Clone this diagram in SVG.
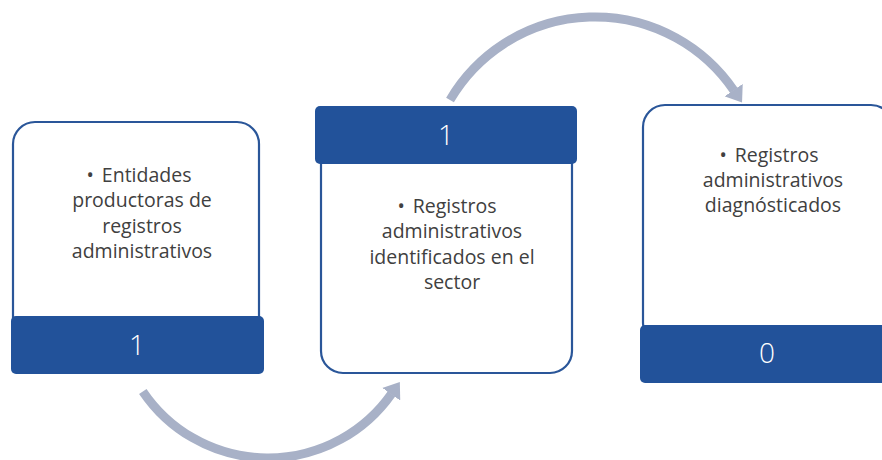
<svg xmlns="http://www.w3.org/2000/svg" width="882" height="460" viewBox="0 0 882 460">
  <style>
    .card { fill: #ffffff; stroke: #2A5699; stroke-width: 2.2; }
    .bar { fill: #22529A; }
    .txt { font-family: "Open Sans", "Noto Sans", "Liberation Sans", sans-serif; font-size: 19.5px; fill: #404040; text-anchor: middle; }
    .num { font-family: "Open Sans", "Noto Sans", "Liberation Sans", sans-serif; font-size: 28px; font-weight: 300; fill: #ffffff; text-anchor: middle; }
    .arc { fill: none; stroke: #A8B1C7; stroke-width: 9; }
  </style>
  <defs>
    <marker id="head" markerUnits="userSpaceOnUse" markerWidth="16" markerHeight="22" viewBox="0 0 16 22" refX="0.5" refY="11" orient="auto">
      <path d="M0,0 L15,11 L0,22 Z" fill="#A8B1C7"/>
    </marker>
  </defs>

  <g id="connectors">
    <path class="arc" d="M142.8,391.4 A151,151 0 0 0 391.5,393.8" marker-end="url(#head)"/>
    <path class="arc" d="M450,100 A168,168 0 0 1 733.9,90.5" marker-end="url(#head)"/>
  </g>

  <g id="node1">
    <rect class="card" x="13" y="122" width="246" height="240" rx="22"/>
    <rect class="bar" x="11" y="316" width="253" height="58" rx="5"/>
    <text class="txt" x="139" y="182">•<tspan dx="8">Entidades</tspan></text>
    <text class="txt" x="142" y="207">productoras de</text>
    <text class="txt" x="142" y="233">registros</text>
    <text class="txt" x="142" y="258">administrativos</text>
    <text class="num" x="137" y="355">1</text>
  </g>

  <g id="node2">
    <rect class="card" x="321" y="125" width="251" height="248" rx="22"/>
    <rect class="bar" x="315" y="106" width="262" height="58" rx="5"/>
    <text class="txt" x="447" y="213">•<tspan dx="8">Registros</tspan></text>
    <text class="txt" x="452" y="238">administrativos</text>
    <text class="txt" x="452" y="264">identificados en el</text>
    <text class="txt" x="452" y="289">sector</text>
    <text class="num" x="446" y="145">1</text>
  </g>

  <g id="node3">
    <rect class="card" x="643" y="105" width="250" height="240" rx="22"/>
    <rect class="bar" x="640" y="325" width="258" height="58" rx="5"/>
    <text class="txt" x="769" y="162">•<tspan dx="8">Registros</tspan></text>
    <text class="txt" x="773" y="187">administrativos</text>
    <text class="txt" x="773" y="212">diagnósticados</text>
    <text class="num" x="767" y="363">0</text>
  </g>
</svg>
